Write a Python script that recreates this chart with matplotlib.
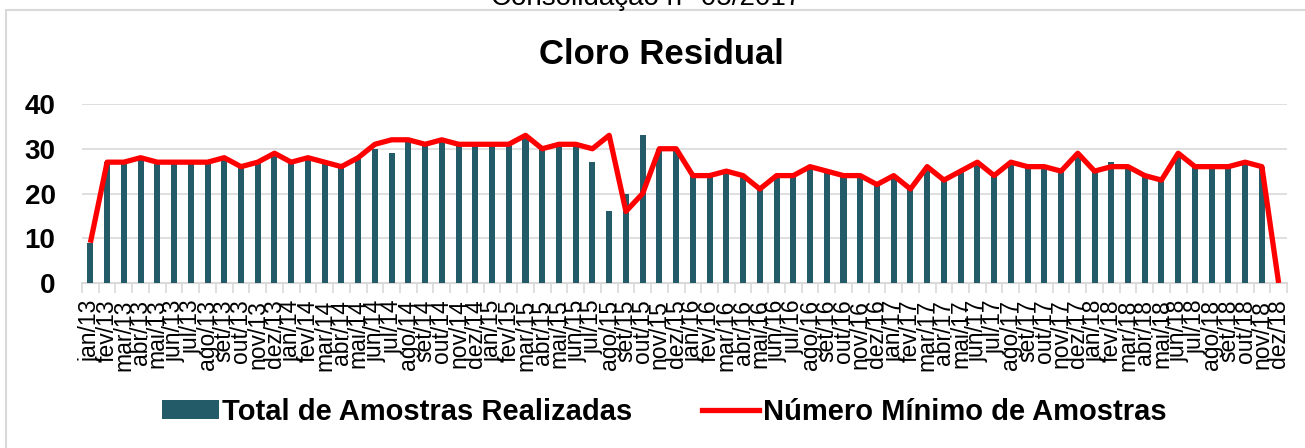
import matplotlib
matplotlib.use("Agg")
import matplotlib.pyplot as plt
from matplotlib.patches import Rectangle, Patch
from matplotlib.lines import Line2D

plt.rcParams['font.family'] = ['Liberation Sans', 'DejaVu Sans']

meses = ['jan', 'fev', 'mar', 'abr', 'mai', 'jun', 'jul', 'ago', 'set', 'out', 'nov', 'dez']
anos = ['13', '14', '15', '16', '17', '18']
categorias = [f'{m}/{a}' for a in anos for m in meses]

total_realizadas = [
    9, 27, 27, 28, 27, 27, 27, 27, 28, 26, 27, 29,
    27, 28, 27, 26, 28, 30, 29, 32, 31, 32, 31, 31,
    31, 31, 33, 30, 31, 31, 27, 16, 20, 33, 30, 30,
    24, 24, 25, 24, 21, 24, 24, 26, 25, 24, 24, 22,
    24, 21, 26, 23, 25, 27, 24, 27, 26, 26, 25, 29,
    25, 27, 26, 24, 23, 29, 26, 26, 26, 27, 26, 0,
]
minimo_amostras = [
    9, 27, 27, 28, 27, 27, 27, 27, 28, 26, 27, 29,
    27, 28, 27, 26, 28, 31, 32, 32, 31, 32, 31, 31,
    31, 31, 33, 30, 31, 31, 30, 33, 16, 20, 30, 30,
    24, 24, 25, 24, 21, 24, 24, 26, 25, 24, 24, 22,
    24, 21, 26, 23, 25, 27, 24, 27, 26, 26, 25, 29,
    25, 26, 26, 24, 23, 29, 26, 26, 26, 27, 26, 0,
]
y_ticks = [0, 10, 20, 30, 40]

W, H = 1305, 448
fig = plt.figure(figsize=(W / 100, H / 100), dpi=100)

# chart frame
frame = Rectangle((6 / W, -0.05), 1.2, 1 - 10 / H + 0.05, transform=fig.transFigure,
                  fill=False, edgecolor='#D9D9D9', linewidth=1.5)
fig.patches.append(frame)

fig.text(646 / W, 1 - 5 / H, 'Consolidação n° 05/2017', ha='center', va='baseline',
         fontsize=20)
fig.text(661 / W, 1 - 64 / H, 'Cloro Residual', ha='center', va='baseline',
         fontsize=25, fontweight='bold')

ax = fig.add_axes([82 / W, 1 - 283 / H, (1287 - 82) / W, (283 - 104) / H])
x = list(range(len(categorias)))
bar_color = '#235B69'
ax.bar(x, total_realizadas, width=0.36, color=bar_color, zorder=2)
ax.plot(x, minimo_amostras, color='#FF0000', linewidth=3.8, zorder=3,
        solid_joinstyle='round', solid_capstyle='butt')

ax.set_xlim(-0.5, len(categorias) - 0.5)
ax.set_ylim(0, 40)
ax.set_yticks(y_ticks)
ax.set_yticklabels([str(v) for v in y_ticks], fontsize=20, fontweight='bold')
ax.tick_params(axis='y', length=0, pad=19)
ax.yaxis.grid(True, color='#D9D9D9', linewidth=1.2, zorder=0)
ax.set_axisbelow(True)

ax.set_xticks(x)
ax.set_xticklabels(categorias, rotation=90, fontsize=16.5)
ax.set_xticks([i - 0.5 for i in range(len(categorias) + 1)], minor=True)
ax.tick_params(axis='x', which='major', length=0, pad=12)
ax.tick_params(axis='x', which='minor', length=7, color='#D9D9D9', width=1.2)

for s in ['top', 'right', 'left']:
    ax.spines[s].set_visible(False)
ax.spines['bottom'].set_color('#D9D9D9')
ax.spines['bottom'].set_linewidth(1.5)
ax.spines['bottom'].set_zorder(1)

handles = [Patch(facecolor=bar_color, edgecolor='none'),
           Line2D([0], [0], color='#FF0000', linewidth=3.8)]
leg = fig.legend(handles, ['Total de Amostras Realizadas', 'Número Mínimo de Amostras'],
                 loc='center', bbox_to_anchor=(664 / W, 1 - 412 / H), ncol=2,
                 frameon=False, prop={'size': 21, 'weight': 'bold'},
                 handlelength=1.95, handletextpad=0.12, columnspacing=2.4,
                 handleheight=0.6)

fig.savefig('out.png', dpi=100)
